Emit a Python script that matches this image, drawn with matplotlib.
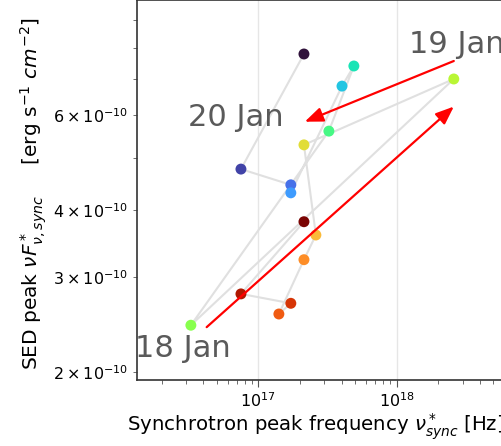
import numpy as np
import matplotlib
matplotlib.use('Agg')
import matplotlib.pyplot as plt

# synchrotron peak frequency [Hz] and SED peak [erg s-1 cm-2], in time order
nu_peak = [2.14e17, 7.50e16, 1.72e17, 1.72e17, 4.03e17, 4.91e17, 3.24e17, 3.26e16,
           2.59e18, 2.14e17, 2.61e17, 2.14e17, 1.41e17, 1.72e17, 7.50e16, 2.14e17]
nuF_peak = [7.79e-10, 4.76e-10, 4.45e-10, 4.30e-10, 6.79e-10, 7.40e-10, 5.60e-10, 2.44e-10,
            7.00e-10, 5.28e-10, 3.59e-10, 3.23e-10, 2.56e-10, 2.68e-10, 2.79e-10, 3.80e-10]

# day labels
day_labels = ['18 Jan', '19 Jan', '20 Jan']
label_x = [1.29e16, 1.23e18, 3.10e16]
label_y = [2.13e-10, 7.82e-10, 5.72e-10]

# red arrows: 18 Jan -> 19 Jan -> 20 Jan
arrow_tail_x = [4.24e16, 2.59e18]
arrow_tail_y = [2.42e-10, 7.56e-10]
arrow_head_x = [2.59e18, 2.17e17]
arrow_head_y = [6.22e-10, 5.83e-10]

plt.rcParams['font.family'] = ['DejaVu Sans']

fig = plt.figure(figsize=(5.02, 4.46), dpi=100)
ax = fig.add_axes([0.2735, 0.1491, 0.7922, 0.8498])

colors = plt.cm.turbo(np.linspace(0, 1, len(nu_peak)))
ax.plot(nu_peak, nuF_peak, color='#e0e0e0', lw=1.5, zorder=1)
ax.scatter(nu_peak, nuF_peak, c=colors, s=62, edgecolors='none', zorder=2)

ax.set_xscale('log')
ax.set_yscale('log')
ax.set_xlim(10**16.126, 1e19)
ax.set_ylim(10**-9.7135, 10**-9.009)
ax.grid(True, which='major', color='#e6e6e6', lw=1)
ax.set_axisbelow(True)

for s in ax.spines.values():
    s.set_color('#333333')
    s.set_linewidth(1.2)
ax.tick_params(which='both', direction='out', color='#555555', labelsize=11.5)
ax.tick_params(which='major', length=5)
ax.tick_params(which='minor', length=3)

for t, x, y in zip(day_labels, label_x, label_y):
    ax.text(x, y, t, fontsize=22, color='#5a5a5a', va='baseline', ha='left', zorder=4)

for i in range(len(arrow_tail_x)):
    ax.annotate('', xy=(arrow_head_x[i], arrow_head_y[i]),
                xytext=(arrow_tail_x[i], arrow_tail_y[i]),
                arrowprops=dict(arrowstyle='-|>,head_length=0.55,head_width=0.22',
                                color='red', lw=1.6, mutation_scale=20,
                                shrinkA=0, shrinkB=0),
                zorder=5)

ax.set_xlabel(r'Synchrotron peak frequency $\nu^*_{sync}$ [Hz]', fontsize=14.2, ha='left')
ax.xaxis.set_label_coords(-0.025, -0.085)
ax.set_ylabel(r'SED peak $\nu F^*_{\nu, sync}$     [erg s$^{-1}$ $cm^{-2}$]', fontsize=14.5)
ax.yaxis.set_label_coords(-0.222, 0.49)

fig.savefig('out.png', dpi=100)
